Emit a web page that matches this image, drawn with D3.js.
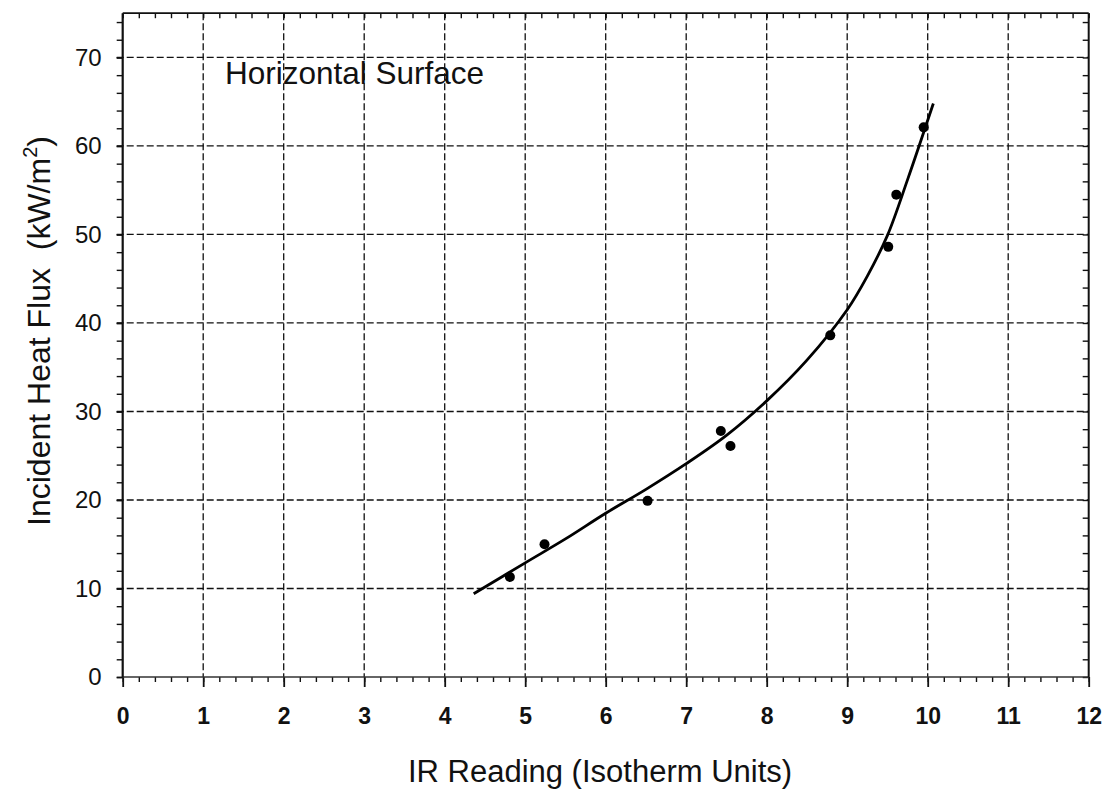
<!DOCTYPE html>
<html>
<head>
<meta charset="utf-8">
<script src="https://cdn.jsdelivr.net/npm/d3@7"></script>
<style>
  html, body { margin: 0; padding: 0; background: #fff; }
  svg { display: block; }
  text { font-family: "Liberation Sans", Arial, Helvetica, sans-serif; fill: #111; }
</style>
</head>
<body>
<svg id="chart" width="1109" height="797"></svg>
<script>
// Measured points: IR reading vs incident heat flux
const irReading = [4.81, 5.24, 6.52, 7.43, 7.55, 8.79, 9.51, 9.61, 9.95];
const heatFlux  = [11.3, 15.0, 19.9, 27.8, 26.1, 38.6, 48.6, 54.5, 62.1];

// Calibration curve drawn through the data
const fitX = [4.36, 5.0, 5.5, 6.0, 6.5, 7.0, 7.5, 8.0, 8.5, 9.0, 9.25, 9.5, 9.75, 10.07];
const fitY = [9.4, 12.9, 15.6, 18.5, 21.2, 24.1, 27.3, 31.2, 35.8, 41.5, 45.3, 49.9, 56.2, 64.8];

// Axis ticks
const xTicks = [0, 1, 2, 3, 4, 5, 6, 7, 8, 9, 10, 11, 12];
const yTicks = [0, 10, 20, 30, 40, 50, 60, 70];

const xTitle = "IR Reading (Isotherm Units)";
const yTitle = "Incident Heat Flux\u00a0\u00a0(kW/m";
const panelLabel = "Horizontal Surface";

const svg = d3.select("#chart");
const plotLeft = 122.7, plotRight = 1088.7, plotTop = 13.2, plotBottom = 677;

const x = d3.scaleLinear().domain([0, 12]).range([plotLeft, plotRight]);
const y = d3.scaleLinear().domain([0, 75]).range([plotBottom, plotTop]);

const xMinor = d3.range(0, 60.5, 1).map(d => d / 5);
const yMinor = d3.range(0, 76, 2);

// Dashed grid
const grid = svg.append("g").attr("stroke", "#111").attr("stroke-width", 1.3)
  .attr("stroke-dasharray", "7,3").attr("fill", "none");
grid.selectAll("line.v").data(xTicks.filter(d => d > 0 && d < 12)).join("line")
  .attr("class", "v")
  .attr("x1", d => x(d)).attr("x2", d => x(d))
  .attr("y1", y(75)).attr("y2", y(0));
grid.selectAll("line.h").data(yTicks.filter(d => d > 0)).join("line")
  .attr("class", "h")
  .attr("x1", x(0) - 6).attr("x2", x(12))
  .attr("y1", d => y(d)).attr("y2", d => y(d));

function styleAxis(g, width) {
  g.select(".domain").remove();
  g.selectAll(".tick line").attr("stroke", "#111").attr("stroke-width", width);
}

// Bottom axis: minor and major ticks, labels
svg.append("g").attr("transform", `translate(0,${plotBottom})`)
  .call(d3.axisBottom(x).tickValues(xMinor).tickSize(5).tickFormat(""))
  .call(g => styleAxis(g, 1.4));
svg.append("g").attr("transform", `translate(0,${plotBottom})`)
  .call(d3.axisBottom(x).tickValues(xTicks).tickSize(10).tickPadding(21).tickFormat(d3.format("d")))
  .call(g => styleAxis(g, 1.8))
  .call(g => g.selectAll("text").attr("font-size", 23).attr("font-weight", "bold").style("fill", "#111"));

// Top border ticks pointing inward
svg.append("g").attr("transform", `translate(0,${plotTop})`)
  .call(d3.axisBottom(x).tickValues(xMinor).tickSize(5).tickFormat(""))
  .call(g => styleAxis(g, 1.4));

// Left axis
svg.append("g").attr("transform", `translate(${plotLeft},0)`)
  .call(d3.axisLeft(y).tickValues(yMinor).tickSize(6).tickFormat(""))
  .call(g => styleAxis(g, 1.4));
svg.append("g").attr("transform", `translate(${plotLeft},0)`)
  .call(d3.axisLeft(y).tickValues(yTicks).tickSize(6).tickPadding(15).tickFormat(d3.format("d")))
  .call(g => styleAxis(g, 1.6))
  .call(g => g.selectAll("text").attr("font-size", 24).style("fill", "#111"));

// Right border ticks pointing inward
svg.append("g").attr("transform", `translate(${plotRight},0)`)
  .call(d3.axisLeft(y).tickValues(yMinor).tickSize(6).tickFormat(""))
  .call(g => styleAxis(g, 1.4));

// Frame
svg.append("line").attr("x1", plotLeft).attr("x2", plotRight).attr("y1", plotBottom).attr("y2", plotBottom)
  .attr("stroke", "#333").attr("stroke-width", 1.6);
svg.append("line").attr("x1", plotLeft).attr("x2", plotLeft).attr("y1", plotTop).attr("y2", plotBottom)
  .attr("stroke", "#111").attr("stroke-width", 2.2);
svg.append("line").attr("x1", plotLeft).attr("x2", plotRight).attr("y1", plotTop).attr("y2", plotTop)
  .attr("stroke", "#111").attr("stroke-width", 1.8);
svg.append("line").attr("x1", plotRight).attr("x2", plotRight).attr("y1", plotTop).attr("y2", plotBottom)
  .attr("stroke", "#111").attr("stroke-width", 2);

// Fitted curve
const fitLine = d3.line().x(d => x(d[0])).y(d => y(d[1])).curve(d3.curveCatmullRom);
svg.append("path")
  .datum(fitX.map((v, i) => [v, fitY[i]]))
  .attr("d", fitLine)
  .attr("fill", "none").attr("stroke", "#000").attr("stroke-width", 2.8)
  .attr("stroke-linecap", "butt");

// Data points
svg.append("g").selectAll("circle")
  .data(irReading.map((v, i) => [v, heatFlux[i]]))
  .join("circle")
  .attr("cx", d => x(d[0])).attr("cy", d => y(d[1]))
  .attr("r", 5).attr("fill", "#000");

// Titles
svg.append("text").attr("x", 600).attr("y", 782).attr("text-anchor", "middle")
  .attr("font-size", 31).text(xTitle);

const yt = svg.append("text")
  .attr("transform", `translate(50,331) rotate(-90)`)
  .attr("text-anchor", "middle").attr("font-size", 32);
yt.append("tspan").text(yTitle);
yt.append("tspan").attr("font-size", 20).attr("dy", -13).text("2");
yt.append("tspan").attr("dy", 13).text(")");

svg.append("text").attr("x", 225).attr("y", 83.5).attr("font-size", 31.5).text(panelLabel);
</script>
</body>
</html>
